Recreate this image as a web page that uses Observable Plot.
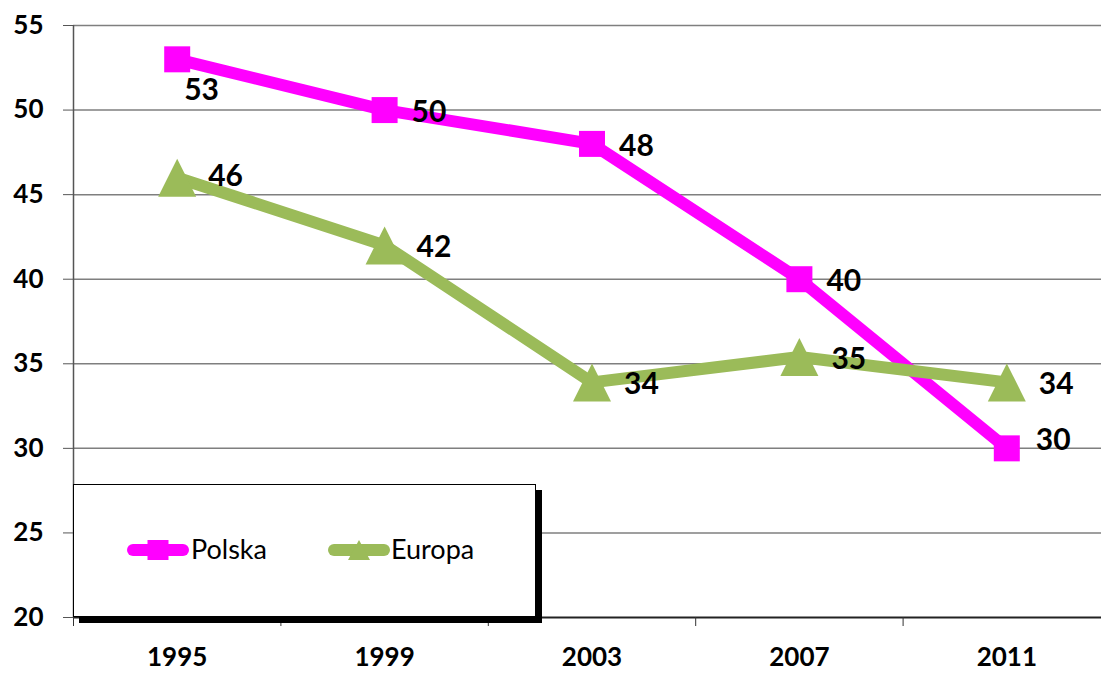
<!DOCTYPE html>
<html><head><meta charset="utf-8">
<script src="https://cdn.jsdelivr.net/npm/d3@7"></script>
<script src="https://cdn.jsdelivr.net/npm/@observablehq/plot@0.6"></script>
<style>
body{margin:0;background:#fff;font-family:Lato,sans-serif}
#wrap{position:relative;width:1101px;height:673px;overflow:hidden}
#legend{position:absolute;left:73px;top:484px;width:461px;height:131px;border:1px solid #000;background:#fff;box-shadow:6px 6px 0 #000}
#legend svg{display:block}
</style></head><body><div id="wrap"></div>
<script>
const years = [1995, 1999, 2003, 2007, 2011];
const polska = [53, 50, 48, 40, 30];
const europa = [46, 42, 33.9, 35.4, 33.9];
const seriesNames = ["Polska", "Europa"];
const seriesColors = ["#FF00FF", "#9BBB59"];
const yTicks = [20, 25, 30, 35, 40, 45, 50, 55];
const xBoundaries = [1993, 1997, 2001, 2005, 2009, 2013];

const dataP = years.map((year, i) => ({year, value: polska[i], i}));
const dataE = years.map((year, i) => ({year, value: europa[i], i}));

const squareSym = {draw(ctx, size){ const h = Math.sqrt(size/Math.PI); ctx.moveTo(-h,-h); ctx.lineTo(h,-h); ctx.lineTo(h,h); ctx.lineTo(-h,h); ctx.closePath(); }};
const triSym = {draw(ctx, size){ const h = Math.sqrt(size/Math.PI); ctx.moveTo(0,-h); ctx.lineTo(h,h); ctx.lineTo(-h,h); ctx.closePath(); }};

const fmt = v => String(Math.round(v));
const lbl = {x: "year", y: "value", text: d => fmt(d.value), textAnchor: "start", fontSize: 30, fontWeight: "bold", fill: "#000", fontFamily: "Lato"};

const chart = Plot.plot({
  width: 1101,
  height: 673,
  marginLeft: 73,
  marginRight: 0,
  marginTop: 25,
  marginBottom: 56,
  style: {fontFamily: "Lato", background: "#fff", color: "#000", overflow: "visible"},
  x: {type: "linear", domain: [1993, 2013], range: [73, 1110]},
  y: {domain: [20, 55]},
  marks: [
    Plot.ruleY(yTicks.filter(t => t > 20), {stroke: "#7f7f7f", strokeWidth: 1.5}),
    Plot.ruleY([20], {stroke: "#222", strokeWidth: 2}),
    Plot.ruleX([1993], {y1: 20, y2: 55, stroke: "#555", strokeWidth: 1.5}),
    Plot.axisY({ticks: yTicks, tickSize: 10, tickPadding: 20, stroke: "#555", fontSize: 26, fontWeight: "bold", fill: "#000", tickFormat: d => String(d), label: null}),
    Plot.axisX({ticks: xBoundaries.slice(0, 5), tickSize: 9, tickFormat: () => "", stroke: "#333", label: null}),
    Plot.axisX({ticks: years, tickSize: 0, tickPadding: 30, fontSize: 26, fontWeight: "bold", fill: "#000", tickFormat: d => String(d), label: null}),
    Plot.line(dataP, {x: "year", y: "value", stroke: seriesColors[0], strokeWidth: 12, strokeLinejoin: "round"}),
    Plot.dot(dataP, {x: "year", y: "value", symbol: squareSym, r: 13, fill: seriesColors[0], stroke: "none"}),
    Plot.line(dataE, {x: "year", y: "value", stroke: seriesColors[1], strokeWidth: 12, strokeLinejoin: "round"}),
    Plot.dot(dataE, {x: "year", y: "value", symbol: triSym, r: 19, fill: seriesColors[1], stroke: "none"}),
    Plot.text(dataP.filter(d => d.i === 0), {...lbl, dx: 7, dy: 31}),
    Plot.text(dataP.filter(d => d.i > 0 && d.i < 4), {...lbl, dx: 27, dy: 2}),
    Plot.text(dataP.filter(d => d.i === 4), {...lbl, dx: 29, dy: -8}),
    Plot.text(dataE.filter(d => d.i === 0), {...lbl, dx: 31, dy: -1}),
    Plot.text(dataE.filter(d => d.i > 0), {...lbl, dx: 32, dy: 2})
  ]
});
const wrap = document.getElementById("wrap");
wrap.appendChild(chart);

// legend (HTML overlay)
const legend = document.createElement("div");
legend.id = "legend";
const ns = "http://www.w3.org/2000/svg";
const lsvg = document.createElementNS(ns, "svg");
lsvg.setAttribute("width", 461); lsvg.setAttribute("height", 131);
const sw = [
  {x0: 53, x1: 115, tx: 117},
  {x0: 254, x1: 316, tx: 317}
];
seriesNames.forEach((name, k) => {
  const s = sw[k], cy = 65, cx = (s.x0 + s.x1) / 2;
  const ln = document.createElementNS(ns, "line");
  ln.setAttribute("x1", s.x0 + 6); ln.setAttribute("x2", s.x1 - 6);
  ln.setAttribute("y1", cy); ln.setAttribute("y2", cy);
  ln.setAttribute("stroke", seriesColors[k]); ln.setAttribute("stroke-width", 12); ln.setAttribute("stroke-linecap", "round");
  lsvg.appendChild(ln);
  const m = document.createElementNS(ns, "path");
  m.setAttribute("d", k === 0 ? `M${cx-10.5},${cy-10}h21v20h-21Z` : `M${cx},${cy-10}L${cx+11},${cy+10}L${cx-11},${cy+10}Z`);
  m.setAttribute("fill", seriesColors[k]);
  lsvg.appendChild(m);
  const t = document.createElementNS(ns, "text");
  t.setAttribute("x", s.tx); t.setAttribute("y", cy + 9);
  t.setAttribute("font-family", "Lato"); t.setAttribute("font-size", 27); t.setAttribute("fill", "#000");
  t.textContent = name;
  lsvg.appendChild(t);
});
legend.appendChild(lsvg);
wrap.appendChild(legend);
</script>
</body></html>
